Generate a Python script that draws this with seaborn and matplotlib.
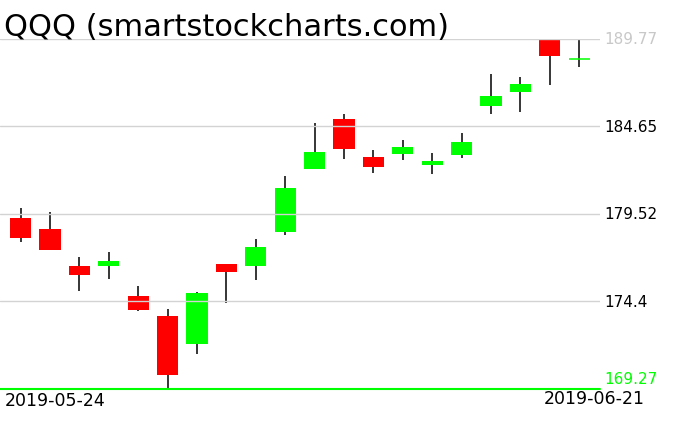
import numpy as np
import pandas as pd
import matplotlib
matplotlib.use("Agg")
import matplotlib.pyplot as plt
import seaborn as sns

# daily QQQ candles, 2019-05-24 .. 2019-06-21
dates = ["2019-05-24", "2019-05-28", "2019-05-29", "2019-05-30", "2019-05-31",
         "2019-06-03", "2019-06-04", "2019-06-05", "2019-06-06", "2019-06-07",
         "2019-06-10", "2019-06-11", "2019-06-12", "2019-06-13", "2019-06-14",
         "2019-06-17", "2019-06-18", "2019-06-19", "2019-06-20", "2019-06-21"]
opens = [179.29, 178.64, 176.47, 176.47, 174.72, 173.55, 171.92, 176.59, 176.49, 178.48,
         182.17, 185.08, 182.86, 183.03, 182.39, 182.98, 185.85, 186.68, 189.71, 188.58]
closes = [178.13, 177.41, 175.97, 176.77, 173.90, 170.11, 174.89, 176.14, 177.59, 181.04,
          183.15, 183.35, 182.29, 183.44, 182.62, 183.74, 186.43, 187.13, 188.79, 188.58]
highs = [179.87, 179.64, 177.00, 177.29, 175.30, 173.96, 174.95, 176.59, 178.06, 181.75,
         184.85, 185.36, 183.27, 183.85, 183.09, 184.25, 187.72, 187.53, 189.74, 189.71]
lows = [177.90, 177.41, 175.03, 175.73, 173.84, 169.27, 171.34, 174.31, 175.67, 178.31,
        182.17, 182.76, 181.92, 182.70, 181.88, 182.80, 185.39, 185.51, 187.09, 188.15]
levels = [189.77, 184.65, 179.52, 174.4, 169.27]
level_labels = ["189.77", "184.65", "179.52", "174.4", "169.27"]
level_colors = ["#c8c8c8", "black", "black", "black", "#00ff00"]

df = pd.DataFrame({"date": dates, "open": opens, "close": closes, "high": highs, "low": lows})
df["x"] = np.arange(len(df))
df["up"] = df["close"] >= df["open"]

sns.set_style("white")
plt.rcParams["font.family"] = ["DejaVu Sans"]
plt.rcParams["text.color"] = "black"

fig = plt.figure(figsize=(6.76, 4.31), dpi=100)
ax = fig.add_axes([0, 1 - 390 / 431, 600 / 676, 350 / 431])

green, red = "#00ff00", "#ff0000"
# wicks
ax.vlines(df["x"], df["low"], df["high"], color="black", lw=1.1, zorder=1)
# bodies
body = df[df["open"] != df["close"]]
ax.bar(body["x"], (body["close"] - body["open"]).abs(),
       bottom=body[["open", "close"]].min(axis=1), width=0.72,
       color=np.where(body["up"], green, red), linewidth=0, zorder=2)
doji = df[df["open"] == df["close"]]
ax.hlines(doji["open"], doji["x"] - 0.36, doji["x"] + 0.36, color=green, lw=1.1, zorder=2)

# horizontal levels (drawn over the bodies)
for lv in levels[:-1]:
    ax.axhline(lv, color="#d3d3d3", lw=1, zorder=3)
ax.axhline(levels[-1], color=green, lw=1.5, zorder=3, clip_on=False)

ax.set_xlim(-0.70, 19.71)
ax.set_ylim(levels[-1], levels[0])
ax.set_xticks([])
ax.set_yticks([])
sns.despine(ax=ax, left=True, bottom=True, top=True, right=True)
ax.patch.set_alpha(0)

for lv, lab, col in zip(levels, level_labels, level_colors):
    if lv == levels[-1]:
        ax.text(1.008, lv + 0.15, lab, transform=ax.get_yaxis_transform(), color=col,
                fontsize=11, va="bottom", ha="left")
    else:
        ax.text(1.008, lv, lab, transform=ax.get_yaxis_transform(), color=col,
                fontsize=11, va="center", ha="left")

fig.text(5 / 676, 1 - 401 / 431, dates[0], fontsize=12.5, va="center", ha="left")
fig.text(645 / 676, 1 - 399 / 431, dates[-1], fontsize=12.5, va="center", ha="right")
fig.text(4 / 676, 1 - 27 / 431, "QQQ (smartstockcharts.com)", fontsize=22,
         va="center", ha="left")

fig.savefig("out.png", dpi=100)
